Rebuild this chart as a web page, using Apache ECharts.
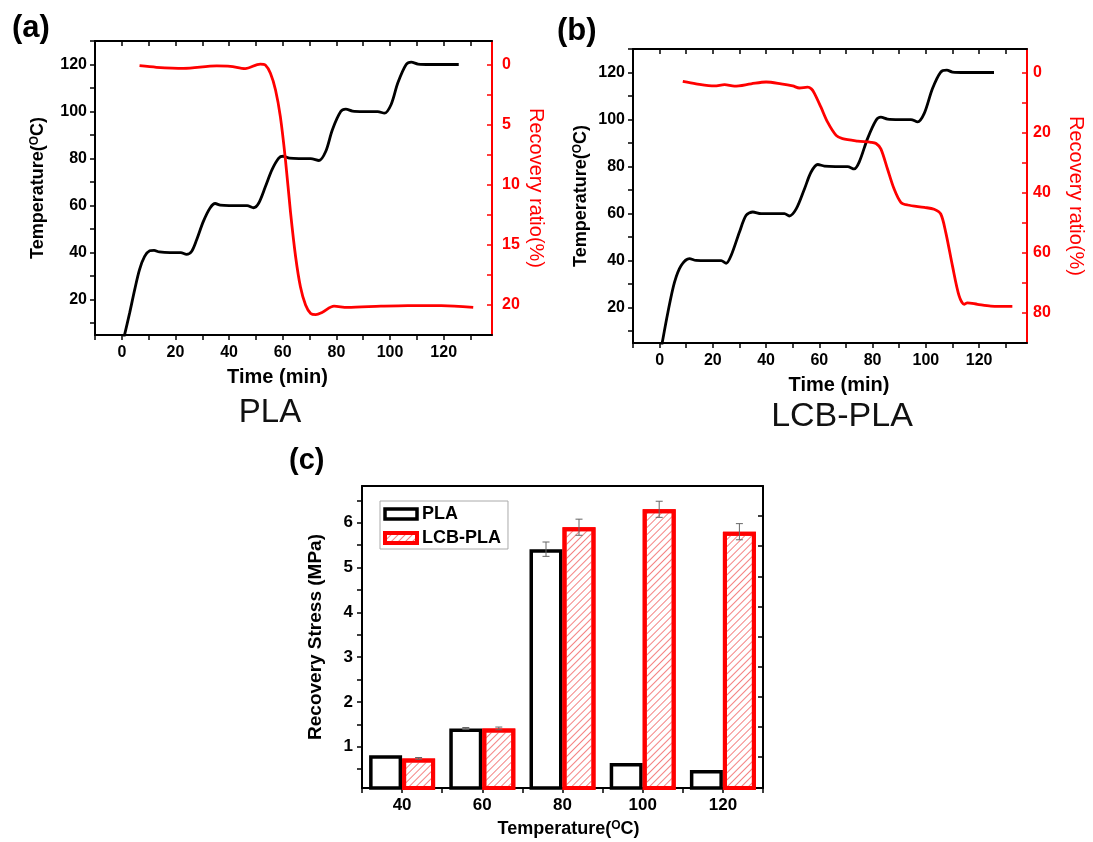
<!DOCTYPE html>
<html>
<head>
<meta charset="utf-8">
<script src="https://cdn.jsdelivr.net/npm/echarts@6/dist/echarts.min.js"></script>
<style>html,body{margin:0;padding:0;background:#fff}#c{width:1093px;height:842px}</style>
</head>
<body>
<div id="c"></div>
<script>
// ---------------- data ----------------
const timeTicks = [-10, 0, 10, 20, 30, 40, 50, 60, 70, 80, 90, 100, 110, 120, 130];
const timeLabels = [0, 20, 40, 60, 80, 100, 120];
const tempTicks = [10, 20, 30, 40, 50, 60, 70, 80, 90, 100, 110, 120, 130];
const tempLabels = [20, 40, 60, 80, 100, 120];
const ratioTicksA = [0, 2.5, 5, 7.5, 10, 12.5, 15, 17.5, 20];
const ratioLabelsA = [0, 5, 10, 15, 20];
const ratioTicksB = [0, 10, 20, 30, 40, 50, 60, 70, 80];
const ratioLabelsB = [0, 20, 40, 60, 80];

// (a) PLA : time (min), temperature (°C)
const tempPLA = [[0.8,4],[2.9,14.3],[4.8,24.3],[6.6,32.8],[8.5,38.4],[10.4,40.8],[12,41],[14,40.3],[18,40],[22,40],[24.1,39.3],[26,40.5],[27.9,45.5],[30.4,53.3],[32.9,59],[34.8,60.9],[36.7,60.2],[40,60],[46.7,60],[49.1,59.1],[51,61],[53.5,68],[56,75.3],[58.5,80.2],[60.1,81],[62.5,80.2],[66,80],[70.4,80],[73.5,79.2],[76,83],[78.5,92.3],[81.6,100],[83.5,101],[86,100.2],[90,100],[95.4,100],[97.9,99.3],[100.4,103],[102.9,112.2],[106,120],[107.9,121],[110.4,120.2],[115,120],[125.6,120]];
// (a) PLA : time (min), recovery ratio (%)
const ratioPLA = [[6.6,0.06],[12.9,0.19],[22.9,0.28],[35.4,0.08],[40.4,0.11],[46,0.3],[51.6,-0.08],[53.5,0],[55.4,0.69],[57.3,2.08],[59.1,4.3],[61,7.9],[62.9,12.3],[64.8,16],[66.6,18.5],[68.5,20],[70.4,20.7],[72.3,20.8],[74.8,20.6],[79.1,20.1],[84.1,20.2],[96.6,20.1],[106.6,20.05],[119.1,20.05],[131,20.2]];
// (b) LCB-PLA : time (min), temperature (°C)
const tempLCB = [[0.8,4],[3.1,18],[5.6,30.9],[8.1,38],[11.2,40.9],[13.7,40.1],[18,40],[23.1,40],[25,38.9],[26.9,42.3],[30,52.2],[32.5,59.3],[35,60.7],[38.1,60],[46.9,60],[48.7,59],[51.3,62],[54.4,70.5],[56.9,77.7],[59.4,80.9],[61.9,80.2],[66,80],[70.6,80],[73.1,79],[75,82],[78.1,91.9],[81.3,99.7],[83.1,101],[85.6,100.2],[90,100],[94.4,100],[96.9,99],[99.4,102.6],[102.5,113.2],[105.6,120.2],[107.9,121],[110,120.2],[115,120],[125.6,120]];
// (b) LCB-PLA : time (min), recovery ratio (%)
const ratioLCB = [[8.7,2.8],[13.7,3.6],[20.6,4.3],[24.4,3.9],[28.1,4.4],[34.4,3.6],[40,3.0],[45.6,3.6],[50,4.3],[52.5,5.0],[55.6,4.7],[57,5.3],[58.1,6.7],[60.6,11.4],[63.1,16.4],[66.3,20.8],[68.7,21.9],[74.4,22.7],[79.4,23.1],[81.3,23.5],[83.1,25.3],[85.6,32],[88.1,38.7],[90.6,43.1],[93.1,44],[99.4,44.8],[103.1,45.4],[105.6,47],[107.5,53.2],[110,64.3],[112.5,74.3],[114.4,77.1],[115.6,76.6],[119.4,77.1],[124.4,77.7],[132.5,77.8]];

// (c) recovery stress
const categories = ['40', '60', '80', '100', '120'];
const stressPLA = [0.81, 1.41, 5.41, 0.64, 0.48];
const stressLCB = [0.74, 1.41, 5.9, 6.3, 5.8];
const errPLA = [0, 0.02, 0.16, 0, 0];
const errLCB = [0.02, 0.03, 0.18, 0.18, 0.18];
const stressTicks = [0.5, 1, 1.5, 2, 2.5, 3, 3.5, 4, 4.5, 5, 5.5, 6, 6.5];
const stressLabels = [1, 2, 3, 4, 5, 6];
const stressRightTicks = [0.78, 1.45, 2.12, 2.79, 3.46, 4.12, 4.79, 5.48, 6.15];

// ---------------- styles ----------------
const FONT = 'Liberation Sans, Arial, Helvetica, sans-serif';
const RED = '#ff0000';
const BAR_W = 33;

const hatchDecal = {
  symbol: 'rect', symbolSize: 1,
  color: 'rgba(240,90,90,0.75)',
  dashArrayX: [1, 0], dashArrayY: [1, 3.4],
  rotation: -Math.PI / 4
};

const supRich = {
  s: { fontSize: 12, fontWeight: 'bold', fontFamily: FONT, color: '#000', lineHeight: 12, verticalAlign: 'top' }
};

function timeAxis(grid, pos, padding) {
  const bottom = pos === 'bottom';
  return {
    type: 'value', gridIndex: grid, position: pos, min: -10, max: 138,
    axisLine: { show: true, onZero: false, lineStyle: { color: '#000', width: 2 } },
    axisTick: { show: true, inside: !bottom, length: 5, lineStyle: { color: '#000', width: 1.5 }, customValues: timeTicks },
    axisLabel: bottom ? { show: true, customValues: timeLabels, color: '#000', fontSize: 16, fontWeight: 'bold', fontFamily: FONT, margin: 10 } : { show: false },
    splitLine: { show: false },
    name: bottom ? 'Time (min)' : '',
    nameLocation: 'middle', nameGap: 32,
    nameTextStyle: { fontSize: 20, fontWeight: 'bold', fontFamily: FONT, color: '#000', padding: padding }
  };
}
function tempAxis(grid, gap) {
  return {
    type: 'value', gridIndex: grid, position: 'left', min: 5, max: 130,
    axisLine: { show: true, onZero: false, lineStyle: { color: '#000', width: 2 } },
    axisTick: { show: true, inside: false, length: 5, lineStyle: { color: '#000', width: 1.5 }, customValues: tempTicks },
    axisLabel: { customValues: tempLabels, color: '#000', fontSize: 16, fontWeight: 'bold', fontFamily: FONT, margin: 8 },
    splitLine: { show: false },
    name: 'Temperature({s|O}C)', nameLocation: 'middle', nameGap: gap,
    nameTextStyle: { fontSize: 18, fontWeight: 'bold', fontFamily: FONT, color: '#000', rich: supRich }
  };
}
function ratioAxis(grid, min, max, ticks, labels, margin, gap) {
  return {
    type: 'value', gridIndex: grid, position: 'right', min: min, max: max, inverse: true,
    axisLine: { show: true, onZero: false, lineStyle: { color: RED, width: 2 } },
    axisTick: { show: true, inside: true, length: 5, lineStyle: { color: RED, width: 1.5 }, customValues: ticks },
    axisLabel: { customValues: labels, color: RED, fontSize: 16, fontWeight: 'bold', fontFamily: FONT, margin: margin },
    splitLine: { show: false },
    name: 'Recovery ratio(%)', nameLocation: 'middle', nameGap: gap, nameRotate: -90,
    nameTextStyle: { fontSize: 20, fontFamily: FONT, color: RED }
  };
}

function errRender(sign) {
  return function (params, api) {
    const idx = api.value(0), v = api.value(1), e = api.value(2);
    if (!e) return null;
    const hi = api.coord([idx, v + e]);
    const lo = api.coord([idx, v - e]);
    const x = hi[0] + sign * BAR_W / 2;
    const cap = 3.5;
    const st = { stroke: '#666', lineWidth: 1 };
    return {
      type: 'group', children: [
        { type: 'line', shape: { x1: x, y1: hi[1], x2: x, y2: lo[1] }, style: st },
        { type: 'line', shape: { x1: x - cap, y1: hi[1], x2: x + cap, y2: hi[1] }, style: st },
        { type: 'line', shape: { x1: x - cap, y1: lo[1], x2: x + cap, y2: lo[1] }, style: st }
      ]
    };
  };
}

const chart = echarts.init(document.getElementById('c'), null, { renderer: 'canvas' });
const option = {
  animation: false,
  backgroundColor: '#ffffff',
  textStyle: { fontFamily: FONT },
  grid: [
    { left: 95, top: 41, width: 397, height: 294 },
    { left: 633, top: 49, width: 394, height: 294 },
    { left: 362, top: 486, width: 401, height: 302 }
  ],
  xAxis: [
    timeAxis(0, 'bottom', [0, 32, 0, 0]),
    timeAxis(0, 'top'),
    timeAxis(1, 'bottom', [0, 0, 0, 18]),
    timeAxis(1, 'top'),
    {
      type: 'category', gridIndex: 2, position: 'bottom', data: categories,
      axisLine: { show: true, lineStyle: { color: '#000', width: 2 } },
      axisTick: { show: true, alignWithLabel: true, length: 5, lineStyle: { color: '#000', width: 1.5 } },
      axisLabel: { color: '#000', fontSize: 17, fontWeight: 'bold', fontFamily: FONT, margin: 9 },
      name: 'Temperature({s|O}C)', nameLocation: 'middle', nameGap: 32,
      nameTextStyle: { fontSize: 18, fontWeight: 'bold', fontFamily: FONT, color: '#000', rich: supRich, padding: [0, 0, 0, 12] }
    },
    {
      type: 'category', gridIndex: 2, position: 'bottom', data: categories,
      axisLine: { show: false },
      axisTick: { show: true, length: 5, lineStyle: { color: '#000', width: 1.5 } },
      axisLabel: { show: false }
    },
    {
      type: 'category', gridIndex: 2, position: 'top', data: categories,
      axisLine: { show: true, lineStyle: { color: '#000', width: 2 } },
      axisTick: { show: false }, axisLabel: { show: false }
    }
  ],
  yAxis: [
    tempAxis(0, 48),
    ratioAxis(0, -2, 22.5, ratioTicksA, ratioLabelsA, 10, 34),
    tempAxis(1, 43),
    ratioAxis(1, -8, 90, ratioTicksB, ratioLabelsB, 6, 39),
    {
      type: 'value', gridIndex: 2, position: 'left', min: 0.08, max: 6.82,
      axisLine: { show: true, onZero: false, lineStyle: { color: '#000', width: 2 } },
      axisTick: { show: true, inside: false, length: 5, lineStyle: { color: '#000', width: 1.5 }, customValues: stressTicks },
      axisLabel: { customValues: stressLabels, color: '#000', fontSize: 17, fontWeight: 'bold', fontFamily: FONT, margin: 9 },
      splitLine: { show: false },
      name: 'Recovery Stress (MPa)', nameLocation: 'middle', nameGap: 37,
      nameTextStyle: { fontSize: 19, fontWeight: 'bold', fontFamily: FONT, color: '#000' }
    },
    {
      type: 'value', gridIndex: 2, position: 'right', min: 0.08, max: 6.82,
      axisLine: { show: true, onZero: false, lineStyle: { color: '#000', width: 2 } },
      axisTick: { show: true, inside: true, length: 5, lineStyle: { color: '#000', width: 1.5 }, customValues: stressRightTicks },
      axisLabel: { show: false },
      splitLine: { show: false }
    }
  ],
  legend: {
    orient: 'vertical', left: 380, top: 501,
    backgroundColor: '#fff', borderColor: '#aaaaaa', borderWidth: 1,
    padding: [4, 7, 2, 3], itemGap: 6, itemWidth: 32, itemHeight: 10,
    icon: 'rect', selectedMode: false,
    textStyle: { fontSize: 18, fontWeight: 'bold', fontFamily: FONT, color: '#000', lineHeight: 18 },
    data: [
      { name: 'PLA', itemStyle: { color: '#fff', borderColor: '#000', borderWidth: 3.5 } },
      { name: 'LCB-PLA', itemStyle: { color: '#fff', borderColor: RED, borderWidth: 4, decal: hatchDecal } }
    ]
  },
  graphic: [
    { type: 'text', left: 12, top: 13, style: { text: '(a)', font: 'bold 31px ' + FONT, fill: '#000' } },
    { type: 'text', left: 557, top: 16, style: { text: '(b)', font: 'bold 31px ' + FONT, fill: '#000' } },
    { type: 'text', left: 289, top: 446, style: { text: '(c)', font: 'bold 29px ' + FONT, fill: '#000' } },
    { type: 'text', x: 270, y: 413, style: { text: 'PLA', font: '33px ' + FONT, fill: '#111', align: 'center', verticalAlign: 'middle' } },
    { type: 'text', x: 842, y: 417, style: { text: 'LCB-PLA', font: '34px ' + FONT, fill: '#111', align: 'center', verticalAlign: 'middle' } }
  ],
  series: [
    { type: 'line', name: 'T PLA', xAxisIndex: 0, yAxisIndex: 0, data: tempPLA, showSymbol: false, smooth: 0.3,
      lineStyle: { color: '#000', width: 2.8 }, itemStyle: { color: '#000' } },
    { type: 'line', name: 'R PLA', xAxisIndex: 0, yAxisIndex: 1, data: ratioPLA, showSymbol: false, smooth: 0.3,
      lineStyle: { color: RED, width: 2.8 }, itemStyle: { color: RED } },
    { type: 'line', name: 'T LCB', xAxisIndex: 2, yAxisIndex: 2, data: tempLCB, showSymbol: false, smooth: 0.3,
      lineStyle: { color: '#000', width: 2.8 }, itemStyle: { color: '#000' } },
    { type: 'line', name: 'R LCB', xAxisIndex: 2, yAxisIndex: 3, data: ratioLCB, showSymbol: false, smooth: 0.3,
      lineStyle: { color: RED, width: 2.8 }, itemStyle: { color: RED } },
    { type: 'bar', name: 'PLA', xAxisIndex: 4, yAxisIndex: 4, data: stressPLA, barWidth: BAR_W, barGap: '0%',
      itemStyle: { color: '#fff', borderColor: '#000', borderWidth: 3.5 } },
    { type: 'bar', name: 'LCB-PLA', xAxisIndex: 4, yAxisIndex: 4, data: stressLCB, barWidth: BAR_W, barGap: '0%',
      itemStyle: { color: '#fff', borderColor: RED, borderWidth: 4, decal: hatchDecal } },
    { type: 'custom', name: 'errPLA', xAxisIndex: 4, yAxisIndex: 4, z: 5, renderItem: errRender(-1),
      encode: { x: 0, y: 1 }, data: stressPLA.map((v, i) => [i, v, errPLA[i]]) },
    { type: 'custom', name: 'errLCB', xAxisIndex: 4, yAxisIndex: 4, z: 5, renderItem: errRender(1),
      encode: { x: 0, y: 1 }, data: stressLCB.map((v, i) => [i, v, errLCB[i]]) }
  ]
};
chart.setOption(option);
</script>
</body>
</html>
